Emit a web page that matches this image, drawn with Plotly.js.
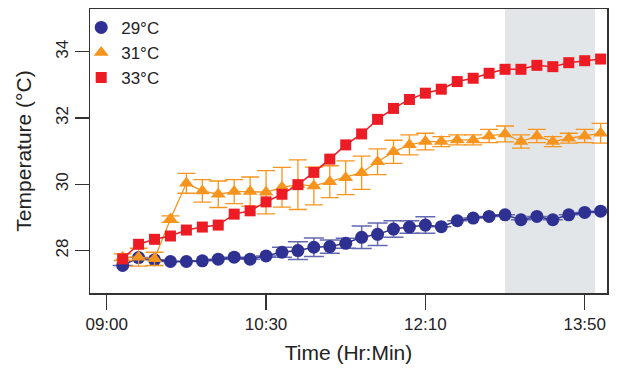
<!DOCTYPE html>
<html>
<head>
<meta charset="utf-8">
<script src="https://cdn.plot.ly/plotly-3.0.1.min.js"></script>
<style>html,body{margin:0;padding:0;background:#fff;}#chart{width:617px;height:370px;}</style>
</head>
<body>
<div id="chart"></div>
<script>
// Sample index (10-minute readings), tick labels on the time axis
const sampleIdx = [1,2,3,4,5,6,7,8,9,10,11,12,13,14,15,16,17,18,19,20,21,22,23,24,25,26,27,28,29,30,31];
const tickPositions = [0, 10, 20, 30];
const tickLabels = ['09:00', '10:30', '12:10', '13:50'];

// 29°C
const temp29 = [27.55,27.79,27.72,27.67,27.67,27.69,27.74,27.80,27.74,27.84,27.95,28.00,28.10,28.12,28.22,28.40,28.49,28.65,28.71,28.77,28.72,28.90,28.98,29.03,29.08,28.93,29.03,28.93,29.08,29.15,29.19];
const err29  = [0,0,0,0,0,0,0,0,0,0,0.15,0.27,0.28,0.2,0.15,0.34,0.34,0.25,0.19,0.25,0,0,0,0,0,0,0,0,0,0,0];
// 31°C
const temp31 = [27.80,27.80,27.75,28.95,30.03,29.80,29.70,29.78,29.78,29.76,29.91,29.99,29.95,30.08,30.20,30.35,30.68,30.98,31.19,31.29,31.29,31.34,31.34,31.46,31.52,31.29,31.46,31.29,31.39,31.46,31.54];
const err31  = [0.1,0.27,0.2,0.1,0.3,0.34,0.4,0.36,0.44,0.65,0.6,0.75,0.57,0.48,0.51,0.5,0.39,0.35,0.3,0.25,0.15,0.15,0.15,0.2,0.24,0.2,0.2,0.15,0.15,0.2,0.3];
// 33°C
const temp33 = [27.75,28.19,28.34,28.44,28.62,28.71,28.77,29.10,29.20,29.47,29.70,29.99,30.36,30.76,31.19,31.52,31.96,32.29,32.56,32.75,32.87,33.10,33.20,33.35,33.47,33.47,33.59,33.55,33.67,33.73,33.78];

// shaded interval on the time axis
const shadeStart = 25;
const shadeEnd = 30.65;

const seriesNames = ['29°C', '31°C', '33°C'];
const colors = ['#2e3192', '#f7941d', '#ed1c24'];
const symbols = ['circle', 'triangle-up', 'square'];
const sizes = [13, 13, 11];

const traces = [
  {x: sampleIdx, y: temp29, mode: 'lines+markers', showlegend: false,
   line: {color: colors[0], width: 1.5},
   marker: {color: colors[0], symbol: symbols[0], size: sizes[0]},
   error_y: {type: 'data', array: err29, visible: true, color: '#6368b0', thickness: 1.5, width: 10}},
  {x: sampleIdx, y: temp31, mode: 'lines+markers', showlegend: false,
   line: {color: colors[1], width: 1.3},
   marker: {color: colors[1], symbol: symbols[1], size: sizes[1]},
   error_y: {type: 'data', array: err31, visible: true, color: colors[1], thickness: 1.3, width: 9}},
  {x: sampleIdx, y: temp33, mode: 'lines+markers', showlegend: false,
   line: {color: colors[2], width: 1.5},
   marker: {color: colors[2], symbol: symbols[2], size: sizes[2]}}
];
// legend-only entries (markers without line)
for (let i = 0; i < 3; i++) {
  traces.push({x: [null], y: [null], mode: 'markers', name: seriesNames[i],
    marker: {color: colors[i], symbol: symbols[i], size: sizes[i]}});
}

const layout = {
  width: 617, height: 370,
  margin: {l: 90, r: 10, t: 9, b: 77},
  paper_bgcolor: '#fff', plot_bgcolor: '#fff',
  font: {family: 'Liberation Sans, Arial, sans-serif', color: '#222', size: 17},
  showlegend: true,
  legend: {x: -0.017, y: 0.997, xanchor: 'left', yanchor: 'top', bgcolor: 'rgba(0,0,0,0)',
           font: {size: 17, color: '#222'}},
  xaxis: {
    range: [-1.05, 31.4], showgrid: false, zeroline: false,
    tickvals: tickPositions, ticktext: tickLabels,
    ticks: 'outside', ticklen: 15, tickwidth: 1.2, tickcolor: '#333',
    showline: true, linecolor: '#333', linewidth: 1.5, mirror: true,
    tickfont: {size: 17, color: '#222'},
    title: {text: 'Time (Hr:Min)', font: {size: 21, color: '#222'}, standoff: 12}
  },
  yaxis: {
    range: [26.72, 35.29], showgrid: false, zeroline: false,
    tickvals: [28, 30, 32, 34],
    ticks: 'outside', ticklen: 14, tickwidth: 1.2, tickcolor: '#333',
    showline: true, linecolor: '#333', linewidth: 1.5, mirror: true,
    tickangle: -90,
    tickfont: {size: 17, color: '#222'},
    title: {text: 'Temperature (°C)', font: {size: 21, color: '#222'}, standoff: 15}
  },
  shapes: [{type: 'rect', xref: 'x', yref: 'paper', x0: shadeStart, x1: shadeEnd, y0: 0, y1: 1,
            fillcolor: '#e3e6e8', line: {width: 0}, layer: 'below'}]
};

Plotly.newPlot('chart', traces, layout, {displayModeBar: false, staticPlot: true});
</script>
</body>
</html>
